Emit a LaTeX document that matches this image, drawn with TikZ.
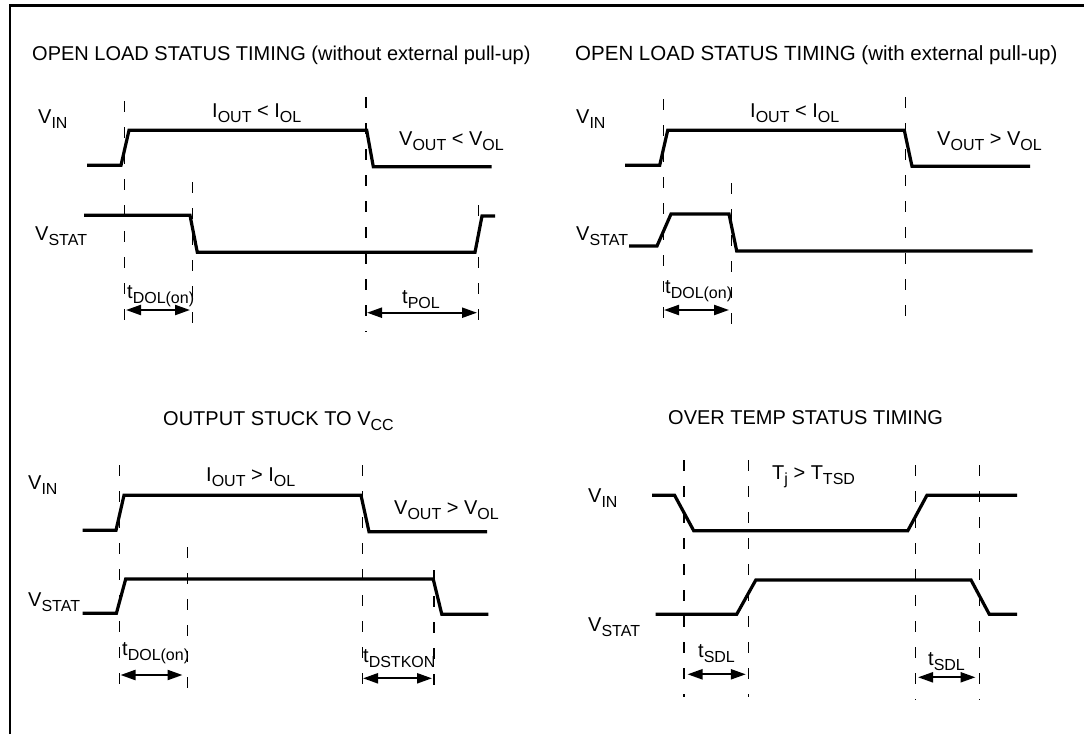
\documentclass[tikz,border=0pt]{standalone}
\usepackage{fontspec}
\setmainfont{Liberation Sans}
\usetikzlibrary{arrows.meta}
% lowered subscript, as the timing labels print it
\newcommand{\lowsub}[1]{\raisebox{-5pt}{\fontsize{16}{16}\selectfont #1}}
\begin{document}
\begin{tikzpicture}[x=1pt, y=-1pt,
    lbl/.style={anchor=base west, inner sep=0pt, font=\fontsize{20}{24}\selectfont},
    wave/.style={line width=3.2pt, line join=miter},
    guide/.style={line width=1.2pt, dash pattern=on 11pt off 15pt},
    span/.style={line width=2.2pt, {Triangle[length=15pt,width=10pt]}-{Triangle[length=15pt,width=10pt]}}]
  \useasboundingbox (0,0) rectangle (1084,734);
  % frame
  \draw[line width=2.2pt] (10,734) -- (10,5.5) -- (1084,5.5);

  % ---- open load, without external pull-up
  \node[lbl] (title1) at (32,60) {OPEN LOAD STATUS TIMING (without external pull-up)};
  \node[lbl] (vin1) at (38,123) {V\lowsub{IN}};
  \node[lbl] (iout1) at (212,117) {I\lowsub{OUT} < I\lowsub{OL}};
  \node[lbl] (vout1) at (399,145) {V\lowsub{OUT} < V\lowsub{OL}};
  \node[lbl] (vstat1) at (35,240) {V\lowsub{STAT}};
  \draw[guide] (124.3,101) -- (124.3,335);
  \draw[guide] (192.3,182) -- (192.3,337);
  \draw[guide] (366,97) -- (366,332);
  \draw[guide] (478.3,205) -- (478.3,334);
  \draw[wave] (87,165.3) -- (121,165.3) -- (129,130.3) -- (366.7,130.3)
              -- (373.3,166.7) -- (491.7,166.7);
  \draw[wave] (84,215.3) -- (190,215.3) -- (197.3,252.3) -- (475,252.3)
              -- (482,216) -- (495,216);
  \node[lbl] (tdol1) at (127,298) {t\lowsub{DOL(on)}};
  \node[lbl] (tpol1) at (402,303) {t\lowsub{POL}};
  \coordinate (d1a) at (126,310);
  \coordinate (d1b) at (190,310);
  \draw[span] (d1a) -- (d1b);
  \coordinate (p1a) at (367,312.7);
  \coordinate (p1b) at (477,312.7);
  \draw[span] (p1a) -- (p1b);

  % ---- open load, with external pull-up
  \node[lbl, font=\fontsize{20.5}{24}\selectfont] (title2) at (575,60)
       {OPEN LOAD STATUS TIMING (with external pull-up)};
  \node[lbl] (vin2) at (576,123) {V\lowsub{IN}};
  \node[lbl] (iout2) at (750,117) {I\lowsub{OUT} < I\lowsub{OL}};
  \node[lbl] (vout2) at (937,145) {V\lowsub{OUT} > V\lowsub{OL}};
  \node[lbl] (vstat2) at (576,240) {V\lowsub{STAT}};
  \draw[guide] (663.2,99) -- (663.2,333);
  \draw[guide] (731.5,183) -- (731.5,337);
  \draw[guide] (905.4,97) -- (905.4,330);
  \draw[wave] (625,165.3) -- (659.7,165.3) -- (667.7,130.3) -- (904.3,130.3)
              -- (912,166.3) -- (1030,166.3);
  \draw[wave] (629,246) -- (657,246) -- (671,214) -- (729,214)
              -- (736.7,251) -- (1032.7,251);
  \node[lbl] (tdol2) at (665,293) {t\lowsub{DOL(on)}};
  \coordinate (d2a) at (664,310);
  \coordinate (d2b) at (729,310);
  \draw[span] (d2a) -- (d2b);

  % ---- output stuck to Vcc
  \node[lbl] (title3) at (163,425) {OUTPUT STUCK TO V\lowsub{CC}};
  \node[lbl] (vin3) at (28,489) {V\lowsub{IN}};
  \node[lbl] (iout3) at (206,481) {I\lowsub{OUT} > I\lowsub{OL}};
  \node[lbl] (vout3) at (394,514) {V\lowsub{OUT} > V\lowsub{OL}};
  \node[lbl] (vstat3) at (28,606) {V\lowsub{STAT}};
  \draw[guide] (119.5,465) -- (119.5,698);
  \draw[guide] (187.7,547) -- (187.7,703);
  \draw[guide] (362.3,465) -- (362.3,697);
  \draw[guide] (433.9,570) -- (433.9,697);
  \draw[wave] (82.6,530.3) -- (116,530.3) -- (124,495.3) -- (361,495.3)
              -- (369,531.7) -- (487,531.7);
  \draw[wave] (82.6,613.3) -- (116.4,613.3) -- (125.7,579) -- (433.2,579)
              -- (441.8,614.3) -- (488.3,614.3);
  \node[lbl] (tdol3) at (122,655) {t\lowsub{DOL(on)}};
  \node[lbl] (tdst3) at (363,662) {t\lowsub{DSTKON}};
  \coordinate (d3a) at (120.5,675);
  \coordinate (d3b) at (182.5,675);
  \draw[span] (d3a) -- (d3b);
  \coordinate (k3a) at (363,678.3);
  \coordinate (k3b) at (432,678.3);
  \draw[span] (k3a) -- (k3b);

  % ---- over temperature
  \node[lbl] (title4) at (668,424) {OVER TEMP STATUS TIMING};
  \node[lbl] (vin4) at (588,502) {V\lowsub{IN}};
  \node[lbl] (tj4) at (772,479) {T\lowsub{j} > T\lowsub{TSD}};
  \node[lbl] (vstat4) at (588,631) {V\lowsub{STAT}};
  \draw[guide] (684,460) -- (684,697);
  \draw[guide] (748.2,460) -- (748.2,697);
  \draw[guide] (915.4,465) -- (915.4,700);
  \draw[guide] (979.3,465) -- (979.3,700);
  \draw[wave] (652,495.3) -- (674.6,495.3) -- (693.7,530.7) -- (907.8,530.7)
              -- (926.9,495.3) -- (1017,495.3);
  \draw[wave] (655.5,614.3) -- (736.7,614.3) -- (755.8,580) -- (971,580)
              -- (989.3,614.3) -- (1017,614.3);
  \node[lbl] (tsdl4a) at (698,657) {t\lowsub{SDL}};
  \node[lbl] (tsdl4b) at (928,665) {t\lowsub{SDL}};
  \coordinate (s4a) at (687.5,674.3);
  \coordinate (s4b) at (745.8,674.3);
  \draw[span] (s4a) -- (s4b);
  \coordinate (s4c) at (918,677.3);
  \coordinate (s4d) at (975.5,677.3);
  \draw[span] (s4c) -- (s4d);
\end{tikzpicture}
\end{document}
